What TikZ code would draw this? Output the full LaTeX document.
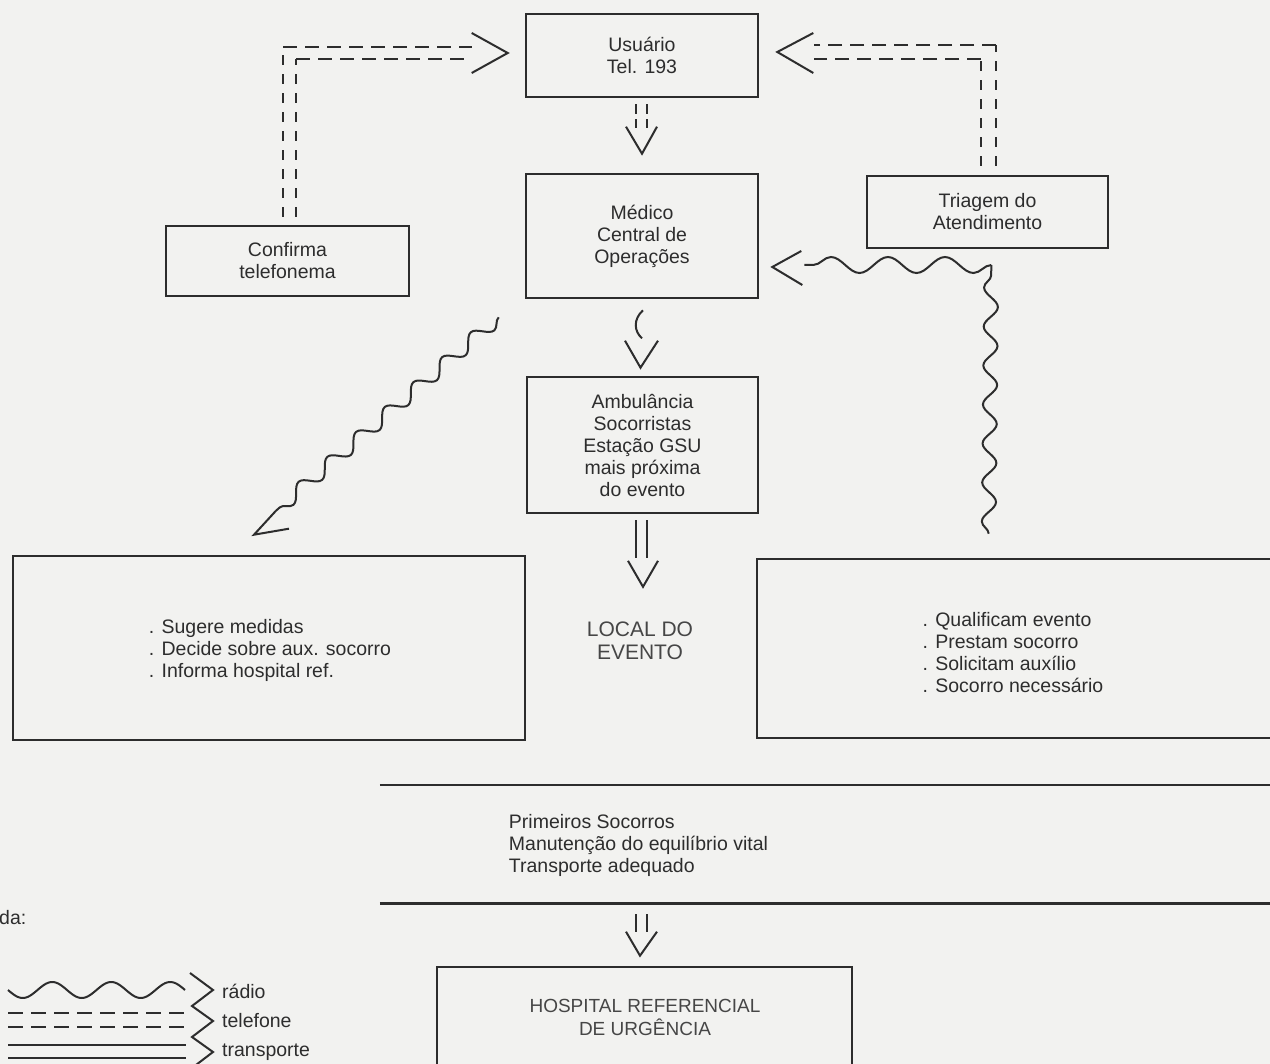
\documentclass[tikz,border=0pt]{standalone}
\usepackage{fontspec}
\setmainfont{Liberation Sans}
\usetikzlibrary{calc,decorations.pathmorphing}
\definecolor{ink}{RGB}{45,45,45}
\definecolor{inklight}{RGB}{70,70,70}
\definecolor{paper}{RGB}{242,242,240}
\begin{document}
\begin{tikzpicture}[x=1pt,y=-1pt,
  box/.style={draw=ink, line width=2.6pt, inner sep=0pt, align=center,
    font=\fontsize{19.5}{22}\selectfont, text=ink},
  boxline/.style={draw=ink, line width=2.6pt},
  conn/.style={draw=ink, line width=2pt, line join=miter},
  tel/.style={conn, dash pattern=on 14pt off 8pt},
  telvert/.style={conn, dash pattern=on 10pt off 9pt},
  telv/.style={conn, dash pattern=on 10pt off 5pt},
  wave/.style={conn, decorate, decoration={snake, segment length=#1, amplitude=7pt}},
  lab/.style={font=\fontsize{19.5}{22}\selectfont, text=ink, align=left, inner sep=0pt},
  light/.style={font=\fontsize{21}{22.5}\selectfont, text=inklight, align=center, inner sep=0pt}
]
\useasboundingbox (0,0) rectangle (1270,1064);
\fill[paper] (0,0) rectangle (1270,1064);
\clip (0,0) rectangle (1270,1064);

% boxes
\node[box, minimum width=232, minimum height=83] (usu) at (642,55.5) {Usuário\\Tel. 193};
\node[box, minimum width=232, minimum height=124] (med) at (642,236) {Médico\\Central de\\Operações};
\node[box, minimum width=231, minimum height=136] (amb) at (642.5,445) {Ambulância\\Socorristas\\Estação GSU\\mais próxima\\do evento};
\node[box, minimum width=243, minimum height=70] (conf) at (287.5,261) {Confirma\\telefonema};
\node[box, minimum width=241, minimum height=72] (tri) at (987.5,212) {Triagem do\\Atendimento};

\node[box, minimum width=512, minimum height=184] (sug) at (269,648) {};
\node[lab] (sugtxt) at (270,650) {. Sugere medidas\\. Decide sobre aux. socorro\\. Informa hospital ref.};

\node[box, minimum width=533, minimum height=179] (qual) at (1023.5,648.5) {};
\node[lab] (qualtxt) at (1013,653) {. Qualificam evento\\. Prestam socorro\\. Solicitam auxílio\\. Socorro necessário};

\node[light, minimum height=70] (local) at (640,641) {LOCAL DO\\EVENTO};

% Primeiros Socorros band (two long rules, no side edges)
\node[inner sep=0pt, minimum width=431, minimum height=118] (prim) at (642.5,844) {};
\draw[boxline] ($(prim.north west)+(-47,0)$) -- ($(prim.north east)+(420,0)$);
\draw[boxline] ($(prim.south west)+(-47,0)$) -- ($(prim.south east)+(420,0)$);
\node[lab] (primtxt) at (638.5,845) {Primeiros Socorros\\Manutenção do equilíbrio vital\\Transporte adequado};

\node[box, minimum width=415, minimum height=113] (hosp) at (644.5,1023.5) {};
\node[light, font=\fontsize{19}{23}\selectfont] (hosptxt) at (645,1017) {HOSPITAL REFERENCIAL\\DE URGÊNCIA};

% conf -> usu (telefone)
\coordinate (ca) at ($(conf.north)+(-4.5,-8)$);
\coordinate (cb) at ($(conf.north)+(8.5,-8)$);
\coordinate (ua) at ($(usu.west)+(-53,-8.5)$);
\coordinate (ub) at ($(usu.west)+(-53,3.5)$);
\draw[telvert] (ca) -- (ca |- ua);
\draw[tel] (ca |- ua) -- (ua);
\draw[telvert] (cb) -- (cb |- ub);
\draw[tel] (cb |- ub) -- (ub);
\draw[conn] ($(usu.west)+(-53,-22.5)$) -- ($(usu.west)+(-17,-2.5)$) -- ($(usu.west)+(-53,17.5)$);

% tri -> usu (telefone)
\coordinate (ta) at ($(tri.north)+(8.5,-9)$);
\coordinate (tb) at ($(tri.north)+(-6.5,-9)$);
\coordinate (va) at ($(usu.east)+(55,-10.5)$);
\coordinate (vb) at ($(usu.east)+(55,3.5)$);
\draw[telvert] (ta) -- (ta |- va);
\draw[tel] (ta |- va) -- (va);
\draw[telvert] (tb) -- (tb |- vb);
\draw[tel] (tb |- vb) -- (vb);
\draw[conn] ($(usu.east)+(54,-22.5)$) -- ($(usu.east)+(18,-3.5)$) -- ($(usu.east)+(54,17.5)$);

% usu -> med (telefone)
\draw[telv] ($(usu.south)+(-6,6)$) -- ($(usu.south)+(-6,30)$);
\draw[telv] ($(usu.south)+(5,6)$) -- ($(usu.south)+(5,30)$);
\draw[conn] ($(med.north)+(-16,-46)$) -- ($(med.north)+(0,-19)$) -- ($(med.north)+(15,-46)$);

% qual -> med (radio)
\coordinate (q1) at ($(qual.north west)+(233,-24)$);
\coordinate (qc) at ($(med.east)+(232,29)$);
\coordinate (mt) at ($(med.east)+(13,31)$);
\draw[wave=39pt] (q1) -- (qc);
\draw[conn, decorate, decoration={snake, segment length=57pt, amplitude=8pt}] (qc) -- ($(mt)+(32,-2)$);
\draw[conn] ($(mt)+(29,-16)$) -- (mt) -- ($(mt)+(30,18)$);

% med -> amb (radio)
\draw[conn] ($(med.south)+(1,11)$) .. controls ($(med.south)+(-9,20)$) and ($(med.south)+(-8,32)$) .. ($(med.south)+(0,39)$);
\draw[conn] ($(amb.north)+(-17.5,-35)$) -- ($(amb.north)+(-2,-8)$) -- ($(amb.north)+(15.5,-35)$);

% med -> sug (radio)
\coordinate (w1) at ($(med.south west)+(-26,18)$);
\coordinate (w2) at ($(sug.north)+(7,-44)$);
\draw[wave=38pt] (w1) -- (w2);
\draw[conn] (w2) -- ($(sug.north)+(-15,-20)$) -- ($(sug.north)+(20,-26)$);

% amb -> local (transporte)
\draw[conn] ($(amb.south)+(-6.5,6)$) -- ($(amb.south)+(-6.5,44)$);
\draw[conn] ($(amb.south)+(4.5,6)$) -- ($(amb.south)+(4.5,44)$);
\draw[conn] ($(local.north)+(-12,-45)$) -- ($(local.north)+(3,-19)$) -- ($(local.north)+(18,-45)$);

% prim -> hosp (transporte)
\draw[conn] ($(prim.south)+(-6.5,11)$) -- ($(prim.south)+(-6.5,29)$);
\draw[conn] ($(prim.south)+(4.5,11)$) -- ($(prim.south)+(4.5,29)$);
\draw[conn] ($(hosp.north)+(-18.5,-34)$) -- ($(hosp.north)+(-4.5,-10)$) -- ($(hosp.north)+(12.5,-34)$);

% legend
\node[lab, anchor=west] (leg) at (-1,918) {da:};
\draw[conn] plot[domain=0:177, samples=90, smooth] ({8+\x},{990+8*sin(\x*6.1017)});
\draw[conn, dash pattern=on 15pt off 8pt] (8,1013) -- (186,1013);
\draw[conn, dash pattern=on 15pt off 8pt] (8,1027) -- (186,1027);
\draw[conn] (8,1045) -- (186,1045);
\draw[conn] (8,1058) -- (186,1058);
\draw[conn] (190,973) -- (213,990) -- (192,1006) -- (213,1021) -- (192,1037) -- (213,1052) -- (192,1068);
\node[lab, anchor=west] (lradio) at (222,991) {rádio};
\node[lab, anchor=west] (ltel) at (222,1021) {telefone};
\node[lab, anchor=west] (ltrans) at (222,1052) {transporte};
\end{tikzpicture}
\end{document}
